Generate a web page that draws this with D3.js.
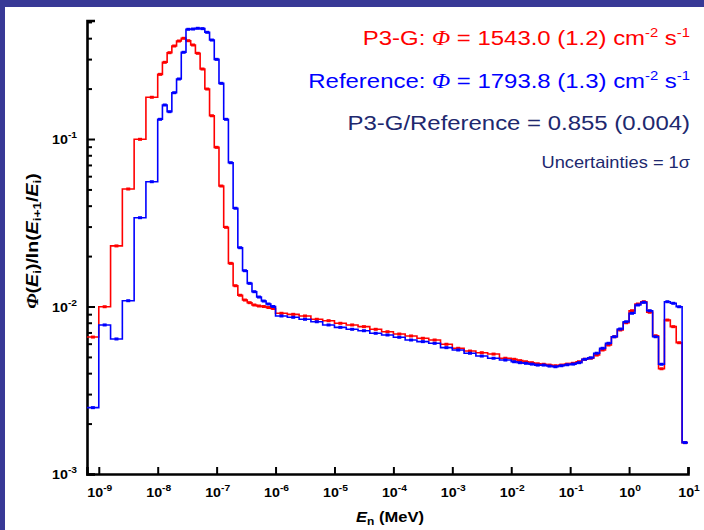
<!DOCTYPE html>
<html>
<head>
<meta charset="utf-8">
<script src="https://cdn.jsdelivr.net/npm/d3@7"></script>
<style>
  body { margin: 0; background: #383996; }
  svg { display: block; }
  text { font-family: "Liberation Sans", Arial, sans-serif; }
</style>
</head>
<body>
<div id="chart"></div>
<script>
// energy group boundaries, log10(E / MeV)
var logEdges = [-9.2, -9.0, -8.8, -8.6, -8.4, -8.2, -8.0,
  -7.92, -7.84, -7.76, -7.68, -7.60, -7.52, -7.44, -7.36, -7.28, -7.20, -7.12, -7.04,
  -6.96, -6.88, -6.80, -6.72, -6.64, -6.56, -6.48, -6.40, -6.32, -6.24, -6.16, -6.08, -6.00,
  -5.8, -5.6, -5.4, -5.2, -5.0, -4.8, -4.6, -4.4, -4.2, -4.0, -3.8, -3.6, -3.4, -3.2,
  -3.0, -2.8, -2.6, -2.4, -2.2, -2.0,
  -1.9, -1.8, -1.7, -1.6, -1.5, -1.4, -1.3, -1.2, -1.1, -1.0, -0.9, -0.8, -0.7, -0.6,
  -0.5, -0.4, -0.3, -0.2, -0.1, 0.0, 0.1, 0.2, 0.3, 0.4, 0.5, 0.6, 0.7, 0.8, 0.9, 1.0];

// flux per unit lethargy in each group
var p3g = [0.00657, 0.00997, 0.0230, 0.0503, 0.0996, 0.1775,
  0.2433, 0.2870, 0.3276, 0.3592, 0.3847, 0.3993, 0.3863, 0.3642, 0.3249, 0.2618,
  0.1988, 0.1377, 0.0892, 0.0524, 0.0297, 0.0181, 0.01331, 0.01167, 0.01093, 0.01054,
  0.01021, 0.01007, 0.0100, 0.00986, 0.00973,
  0.00911, 0.00898, 0.00878, 0.00839, 0.00823, 0.00794, 0.00776, 0.00758, 0.00731, 0.00707,
  0.00685, 0.00667, 0.00646, 0.00631, 0.00595, 0.00563, 0.00542, 0.00530, 0.00520, 0.00491,
  0.00484, 0.00475, 0.00468, 0.00462, 0.00455, 0.00452, 0.00447, 0.00443, 0.00447, 0.00453,
  0.00458, 0.00468, 0.00484, 0.00491, 0.00513, 0.00550, 0.00589, 0.00660, 0.00724, 0.00800,
  0.00944, 0.01035, 0.01068, 0.00924, 0.00669, 0.00425, 0.00830, 0.00758, 0.00608, 0.00154];

var reference = [0.00249, 0.00776, 0.00640, 0.01083, 0.0339, 0.0556,
  0.1311, 0.1596, 0.1456, 0.1890, 0.2282, 0.3294, 0.4518, 0.4536, 0.4581, 0.4560,
  0.4335, 0.3899, 0.2990, 0.2150, 0.1311, 0.0722, 0.0386, 0.02244, 0.01636, 0.01375,
  0.01226, 0.01139, 0.01078, 0.01035, 0.0100,
  0.00878, 0.00862, 0.00839, 0.00811, 0.00776, 0.00751, 0.00731, 0.00717, 0.00692, 0.00676,
  0.00655, 0.00631, 0.00617, 0.00603, 0.00568, 0.00550, 0.00526, 0.00506, 0.00491, 0.00479,
  0.00468, 0.00462, 0.00458, 0.00453, 0.00447, 0.00447, 0.00441, 0.00437, 0.00443, 0.00449,
  0.00453, 0.00462, 0.00484, 0.00494, 0.00526, 0.00563, 0.00603, 0.00660, 0.00734, 0.00811,
  0.00911, 0.01021, 0.01059, 0.00944, 0.00660, 0.00452, 0.01068, 0.01045, 0.00997, 0.00154];

var xTickExps = [-9, -8, -7, -6, -5, -4, -3, -2, -1, 0, 1];
var yTickExps = [-3, -2, -1];

var width = 704, height = 530;
var stretch = 1.14; // the reference text is drawn a bit wide

var svg = d3.select('#chart').append('svg')
  .attr('width', width)
  .attr('height', height);

svg.append('rect').attr('width', width).attr('height', height).attr('fill', '#383996');
svg.append('rect').attr('x', 5).attr('y', 7)
  .attr('width', width - 5).attr('height', height - 7).attr('fill', '#ffffff');

var xScale = d3.scaleLog()
  .domain([Math.pow(10, -9.2), 10])
  .range([87, 688]);

var yScale = d3.scaleLog()
  .domain([1e-3, 0.51])
  .range([474, 20.5]);

// ---- axes ----
var yMajor = yTickExps.map(function (e) { return Math.pow(10, e); });
var yMinor = [];
yTickExps.forEach(function (e) {
  for (var m = 2; m <= 9; m++) {
    var v = m * Math.pow(10, e);
    if (v < 0.51) yMinor.push(v);
  }
});

var yAxisG = svg.append('g').attr('transform', 'translate(87,0)');
yAxisG.call(d3.axisLeft(yScale).tickValues(yMajor).tickSize(-8).tickSizeOuter(-8).tickFormat(''));
yAxisG.append('g').call(d3.axisLeft(yScale).tickValues(yMinor).tickSize(-5).tickFormat(''))
  .select('.domain').remove();

var xAxisG = svg.append('g').attr('transform', 'translate(0,474)');
xAxisG.call(d3.axisBottom(xScale)
  .tickValues(xTickExps.map(function (e) { return Math.pow(10, e); }))
  .tickSize(-7).tickSizeOuter(-7).tickFormat(''));

svg.selectAll('.domain').attr('stroke', '#000').attr('stroke-width', 2.6);
svg.selectAll('.tick line').attr('stroke', '#000').attr('stroke-width', 2);

// tick labels: 10 with superscript exponent
function powerLabel(sel, e) {
  sel.append('tspan').text('10');
  sel.append('tspan').attr('font-size', 9).attr('dy', -6).text(e);
}

xTickExps.forEach(function (e) {
  var t = svg.append('text')
    .attr('transform', 'translate(' + (xScale(Math.pow(10, e)) + 1) + ',497) scale(' + stretch + ',1)')
    .attr('text-anchor', 'middle')
    .attr('font-size', 12.5)
    .attr('font-weight', 'bold');
  powerLabel(t, e);
});

yTickExps.forEach(function (e) {
  var t = svg.append('text')
    .attr('transform', 'translate(77,' + (yScale(Math.pow(10, e)) + 5) + ') scale(' + stretch + ',1)')
    .attr('text-anchor', 'end')
    .attr('font-size', 12.5)
    .attr('font-weight', 'bold');
  powerLabel(t, e);
});

// axis titles
var xt = svg.append('text')
  .attr('transform', 'translate(390,522) scale(' + stretch + ',1)')
  .attr('text-anchor', 'middle')
  .attr('font-size', 14.5)
  .attr('font-weight', 'bold');
xt.append('tspan').attr('font-style', 'italic').text('E');
xt.append('tspan').attr('font-size', 10.5).attr('dy', 3).text('n');
xt.append('tspan').attr('dy', -3).text(' (MeV)');

var yt = svg.append('text')
  .attr('transform', 'translate(38,241) rotate(-90) scale(1.3,1.05)')
  .attr('text-anchor', 'middle')
  .attr('font-size', 15)
  .attr('font-weight', 'bold');
yt.append('tspan').attr('font-style', 'italic').attr('font-family', 'Liberation Serif').text('\u03A6');
yt.append('tspan').text('(');
yt.append('tspan').attr('font-style', 'italic').text('E');
yt.append('tspan').attr('font-size', 10.5).attr('dy', 3).text('i');
yt.append('tspan').attr('dy', -3).text(')/ln(');
yt.append('tspan').attr('font-style', 'italic').text('E');
yt.append('tspan').attr('font-size', 10.5).attr('dy', 3).text('i+1');
yt.append('tspan').attr('dy', -3).text('/');
yt.append('tspan').attr('font-style', 'italic').text('E');
yt.append('tspan').attr('font-size', 10.5).attr('dy', 3).text('i');
yt.append('tspan').attr('dy', -3).text(')');

// ---- step histograms ----
function stepPoints(values) {
  var pts = values.map(function (v, i) { return [Math.pow(10, logEdges[i]), v]; });
  pts.push([Math.pow(10, logEdges[values.length]), values[values.length - 1]]);
  return pts;
}

var line = d3.line()
  .x(function (d) { return xScale(d[0]); })
  .y(function (d) { return yScale(d[1]); })
  .curve(d3.curveStepAfter);

function drawSeries(values, color) {
  svg.append('path')
    .attr('d', line(stepPoints(values)))
    .attr('fill', 'none')
    .attr('stroke', color)
    .attr('stroke-width', 1.6);
  svg.append('g').selectAll('rect')
    .data(values)
    .enter()
    .append('rect')
    .attr('x', function (d, i) { return xScale(Math.pow(10, (logEdges[i] + logEdges[i + 1]) / 2)) - 2; })
    .attr('y', function (d) { return yScale(d) - 1.5; })
    .attr('width', 4)
    .attr('height', 3)
    .attr('fill', color);
}

drawSeries(p3g, '#ff0000');
drawSeries(reference, '#0000ff');

// ---- annotations ----
function note(y, size, color, build) {
  var t = svg.append('text')
    .attr('transform', 'translate(690,' + y + ') scale(' + stretch + ',1)')
    .attr('text-anchor', 'end')
    .attr('font-size', size)
    .attr('fill', color);
  build(t);
}

function fluxText(t, label, value) {
  t.append('tspan').text(label);
  t.append('tspan').attr('font-family', 'Liberation Serif').attr('font-style', 'italic').text('\u03A6');
  t.append('tspan').text(' = ' + value + ' cm');
  t.append('tspan').attr('font-size', 13).attr('dy', -8).text('-2');
  t.append('tspan').attr('dy', 8).text(' s');
  t.append('tspan').attr('font-size', 13).attr('dy', -8).text('-1');
}

note(45, 21, '#ff0000', function (t) { fluxText(t, 'P3-G: ', '1543.0 (1.2)'); });
note(88, 21, '#0000ff', function (t) { fluxText(t, 'Reference: ', '1793.8 (1.3)'); });
note(130, 21, '#20286e', function (t) { t.text('P3-G/Reference = 0.855 (0.004)'); });
note(168, 16, '#20286e', function (t) { t.text('Uncertainties = 1\u03C3'); });
</script>
</body>
</html>
